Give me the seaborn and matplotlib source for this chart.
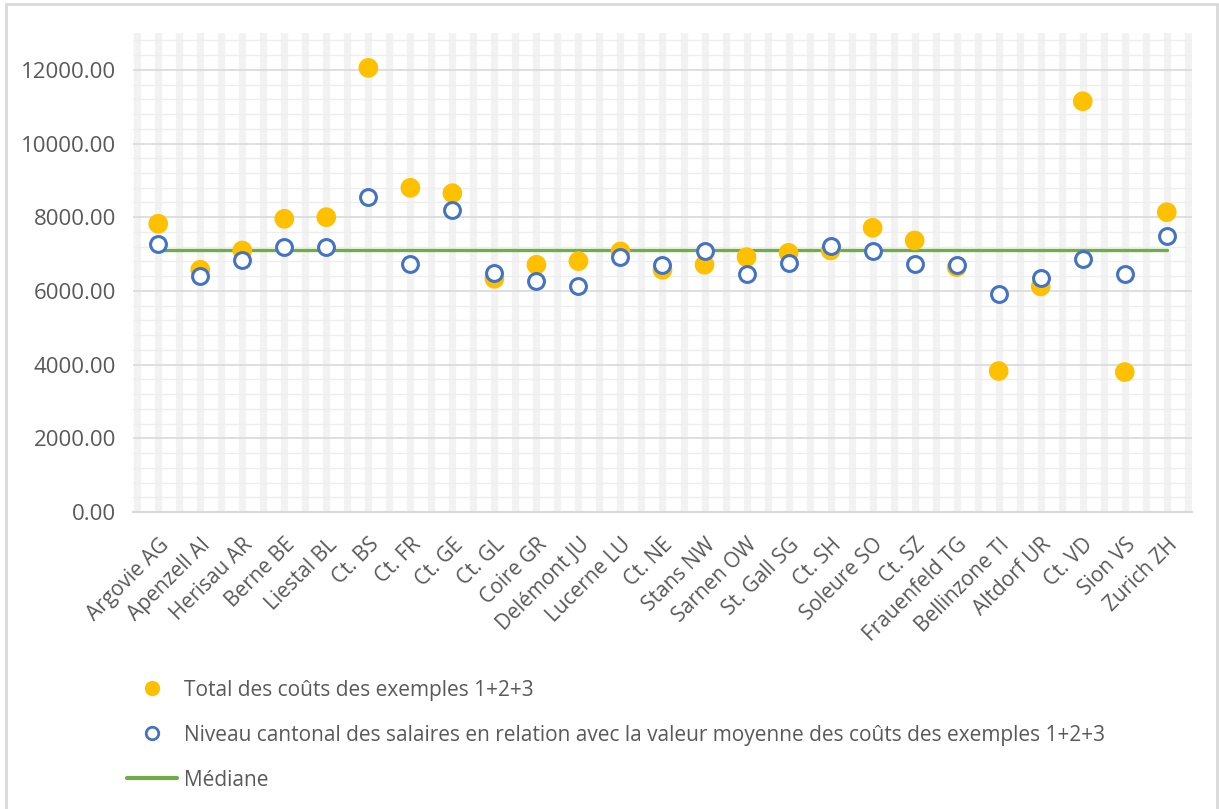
import numpy as np
import pandas as pd
import seaborn as sns
import matplotlib.pyplot as plt
from matplotlib.lines import Line2D
from matplotlib.ticker import MultipleLocator, FormatStrFormatter

cantons = ["Argovie AG", "Apenzell AI", "Herisau AR", "Berne BE", "Liestal BL",
           "Ct. BS", "Ct. FR", "Ct. GE", "Ct. GL", "Coire GR", "Delémont JU",
           "Lucerne LU", "Ct. NE", "Stans NW", "Sarnen OW", "St. Gall SG",
           "Ct. SH", "Soleure SO", "Ct. SZ", "Frauenfeld TG", "Bellinzone TI",
           "Altdorf UR", "Ct. VD", "Sion VS", "Zurich ZH"]
total_couts = [7823, 6575, 7098, 7958, 8002, 12054, 8799, 8653, 6330, 6711, 6809,
               7071, 6575, 6711, 6917, 7035, 7098, 7714, 7370, 6646, 3826,
               6122, 11148, 3798, 8138]
niveau_salaires = [7261, 6393, 6846, 7188, 7188, 8545, 6738, 8202, 6483, 6258, 6122,
                   6917, 6692, 7071, 6466, 6755, 7206, 7071, 6738, 6692, 5923,
                   6348, 6855, 6466, 7478]
mediane = 7117

lbl_total = "Total des coûts des exemples 1+2+3"
lbl_niveau = "Niveau cantonal des salaires en relation avec la valeur moyenne des coûts des exemples 1+2+3"
lbl_mediane = "Médiane"

df = pd.DataFrame({"canton": cantons, "total": total_couts,
                   "niveau": niveau_salaires, "mediane": [mediane] * len(cantons)})

sns.set_style("white")
plt.rcParams["font.family"] = ["Open Sans", "DejaVu Sans"]

orange = "#FFC000"
bleu = "#4472C4"
vert = "#70AD47"
gris_txt = "#595959"

fig = plt.figure(figsize=(12.19, 8.09), dpi=100)
ax = fig.add_axes([133 / 1219, 1 - 512 / 809, (1192 - 133) / 1219, (512 - 33) / 809])

# bandes verticales claires (grille secondaire)
for xv in np.arange(-0.5, len(cantons), 0.5):
    ax.axvline(xv, color="#F2F2F2", lw=5.2, zorder=0)

sns.lineplot(data=df, x="canton", y="mediane", color=vert, lw=2.4, ax=ax, zorder=2,
             sort=False)
sns.scatterplot(data=df, x="canton", y="total", color=orange, s=200, edgecolor="none",
                ax=ax, zorder=3)
sns.scatterplot(data=df, x="canton", y="niveau", s=130, facecolor="white",
                edgecolor=bleu, linewidth=2.2, ax=ax, zorder=4)

ax.set_xlim(-0.6, len(cantons) - 0.4)
ax.set_ylim(0, 13000)
ax.yaxis.set_major_locator(MultipleLocator(2000))
ax.yaxis.set_minor_locator(MultipleLocator(400))
ax.yaxis.set_major_formatter(FormatStrFormatter("%.2f"))
ax.grid(axis="y", which="major", color="#D9D9D9", lw=1.2, zorder=1)
ax.grid(axis="y", which="minor", color="#EEEEEE", lw=1.0, zorder=1)
ax.set_axisbelow(True)
for s in ["top", "right", "left"]:
    ax.spines[s].set_visible(False)
ax.spines["bottom"].set_color("#D9D9D9")
ax.spines["bottom"].set_linewidth(1.5)
ax.set_xlabel("")
ax.set_ylabel("")
ax.tick_params(axis="both", length=0, colors=gris_txt)
ax.tick_params(axis="y", labelsize=16, pad=12)
ax.tick_params(axis="x", labelsize=15, pad=16)
plt.setp(ax.get_xticklabels(), rotation=45, ha="right", rotation_mode="anchor")

handles = [
    Line2D([], [], ls="none", marker="o", ms=11, mfc=orange, mec="none"),
    Line2D([], [], ls="none", marker="o", ms=9, mfc="white", mec=bleu, mew=2),
    Line2D([], [], color=vert, lw=3),
]
leg = fig.legend(handles, [lbl_total, lbl_niveau, lbl_mediane], loc="upper left",
                 bbox_to_anchor=(108 / 1219, 1 - 661 / 809), frameon=False,
                 fontsize=15, labelspacing=1.15, handlelength=2.4,
                 handletextpad=0.35, labelcolor=gris_txt)

# cadre du graphique
fig.add_artist(Line2D([6 / 1219, 6 / 1219], [0, 1 - 4 / 809],
                      transform=fig.transFigure, color="#D9D9D9", lw=2))
fig.add_artist(Line2D([6 / 1219, 1217 / 1219], [1 - 4 / 809, 1 - 4 / 809],
                      transform=fig.transFigure, color="#D9D9D9", lw=2))
fig.add_artist(Line2D([1217 / 1219, 1217 / 1219], [0, 1 - 4 / 809],
                      transform=fig.transFigure, color="#D9D9D9", lw=2))

fig.savefig("out.png", dpi=100)
